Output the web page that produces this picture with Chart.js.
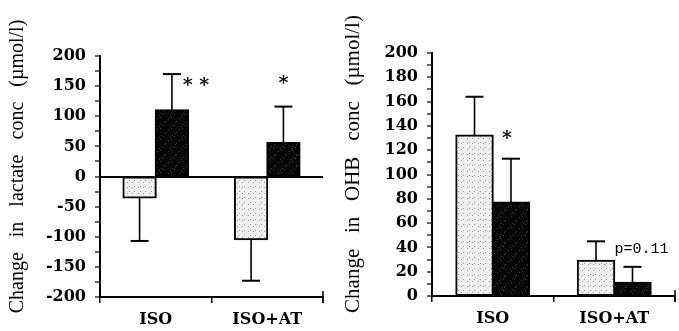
<!DOCTYPE html>
<html lang="en">
<head>
  <meta charset="UTF-8">
  <title>Lactate and OHB change</title>
  <script src="https://cdn.jsdelivr.net/npm/chart.js"></script>
  <style>
    body { margin: 0; background: #fff; }
    .panel { position: absolute; top: 0; }
    #leftPanel { left: 0; }
    #rightPanel { left: 340px; }
  </style>
</head>
<body>
  <div class="panel" id="leftPanel"><canvas id="lactateChart" width="340" height="331"></canvas></div>
  <div class="panel" id="rightPanel"><canvas id="ohbChart" width="339" height="331"></canvas></div>

  <script>
    // --- data ---
    const groups = ['ISO', 'ISO+AT'];

    // lactate (umol/l): light = first bar, dark = second bar
    const lactateLight = [-35, -104];
    const lactateLightErr = [72, 69];
    const lactateDark = [110, 56];
    const lactateDarkErr = [60, 60];

    // OHB (umol/l)
    const ohbLight = [132, 29];
    const ohbLightErr = [32, 16];
    const ohbDark = [77, 11];
    const ohbDarkErr = [36, 13];

    // significance marks: group index, dataset index, value level, text
    const lactateMarks = [
      { group: 0, set: 1, level: 150, text: '* *', dx: 24 },
      { group: 1, set: 1, level: 154, text: '*', dx: 0 }
    ];
    const ohbMarks = [
      { group: 0, set: 1, level: 129, text: '*', dx: -4 },
      { group: 1, set: 1, level: 39, text: 'p=0.11', dx: 9, mono: true }
    ];

    // stippled fills, fixed dot layout
    function stipple(bg, dot, every) {
      const c = document.createElement('canvas');
      c.width = 11; c.height = 11;
      const g = c.getContext('2d');
      g.fillStyle = bg;
      g.fillRect(0, 0, 11, 11);
      g.fillStyle = dot;
      for (let y = 0; y < 11; y++) {
        for (let x = 0; x < 11; x++) {
          if ((x * 7 + y * 5 + x * y) % every === 0) g.fillRect(x, y, 1, 1);
        }
      }
      return g.createPattern(c, 'repeat');
    }
    const lightFill = stipple('#efefef', '#9a9a9a', 6);
    const darkFill = stipple('#070707', '#3c3c3c', 17);

    // one-sided error bars + star labels
    const errorBars = {
      id: 'errorBars',
      afterDatasetsDraw(chart, args, opts) {
        const ctx = chart.ctx;
        const yScale = chart.scales.y;
        ctx.save();
        ctx.strokeStyle = '#000';
        chart.data.datasets.forEach((ds, di) => {
          const meta = chart.getDatasetMeta(di);
          meta.data.forEach((bar, i) => {
            const v = ds.data[i];
            const end = v + Math.sign(v) * ds.errors[i];
            const y1 = yScale.getPixelForValue(v);
            const y2 = yScale.getPixelForValue(end);
            ctx.lineWidth = 1.6;
            ctx.beginPath();
            ctx.moveTo(bar.x, y1);
            ctx.lineTo(bar.x, y2);
            ctx.stroke();
            ctx.lineWidth = 2;
            ctx.beginPath();
            ctx.moveTo(bar.x - 9, y2);
            ctx.lineTo(bar.x + 9, y2);
            ctx.stroke();
          });
        });
        ctx.fillStyle = '#000';
        ctx.textAlign = 'center';
        ctx.textBaseline = 'middle';
        (opts.marks || []).forEach(m => {
          const bar = chart.getDatasetMeta(m.set).data[m.group];
          ctx.font = m.mono ? '15px "Liberation Mono"' : 'bold 19px "DejaVu Serif"';
          ctx.fillText(m.text, bar.x + m.dx, yScale.getPixelForValue(m.level));
        });
        // end tick of the x axis
        const xs = chart.scales.x;
        ctx.lineWidth = 1.5;
        ctx.beginPath();
        ctx.moveTo(xs.right, xs.top - 6);
        ctx.lineTo(xs.right, xs.top + 6);
        ctx.stroke();
        ctx.restore();
      }
    };

    const tickFont = { family: '"DejaVu Serif"', size: 16, weight: 'bold' };

    function makeChart(id, light, lightErr, dark, darkErr, o) {
      return new Chart(document.getElementById(id), {
        type: 'bar',
        data: {
          labels: groups,
          datasets: [
            { data: light, errors: lightErr, backgroundColor: lightFill, borderColor: '#000', borderWidth: 2, borderSkipped: false, inflateAmount: 1 },
            { data: dark, errors: darkErr, backgroundColor: darkFill, borderColor: '#000', borderWidth: 2, borderSkipped: false, inflateAmount: 1 }
          ]
        },
        options: {
          responsive: false,
          animation: false,
          devicePixelRatio: 1,
          layout: { padding: o.padding },
          plugins: {
            legend: { display: false },
            tooltip: { enabled: false },
            errorBars: { marks: o.marks }
          },
          datasets: { bar: { categoryPercentage: o.catPct, barPercentage: 1 } },
          scales: {
            x: {
              afterFit: s => { s.height = o.xHeight; },
              border: { display: true, color: '#000', width: 2 },
              grid: { display: true, drawOnChartArea: false, color: '#000', tickLength: 6, lineWidth: 1.5 },
              ticks: { color: '#000', font: tickFont, padding: 7 }
            },
            y: {
              min: o.min,
              max: o.max,
              afterFit: s => { s.width = o.yWidth; },
              border: { display: true, color: '#000', width: 2 },
              grid: {
                drawOnChartArea: true,
                color: c => (c.tick && c.tick.value === 0 && o.min < 0) ? '#000' : 'transparent',
                lineWidth: 2,
                tickColor: '#000',
                tickWidth: 1.2,
                tickLength: 5
              },
              ticks: {
                stepSize: o.minor,
                autoSkip: false,
                color: '#000',
                font: tickFont,
                padding: 9,
                callback: v => (v % o.major === 0 ? String(v) : '')
              },
              title: {
                display: true,
                text: o.title,
                color: '#000',
                font: { family: '"Liberation Serif"', size: o.titleSize },
                padding: { top: o.titlePad, bottom: 0 }
              }
            }
          }
        },
        plugins: [errorBars]
      });
    }

    // leading spaces lift the rotated title a little, like the original
    makeChart('lactateChart', lactateLight, lactateLightErr, lactateDark, lactateDarkErr, {
      min: -200, max: 200, minor: 25, major: 50,
      title: '    Change   in   lactate   conc   (\u00b5mol/l)',
      titleSize: 20,
      padding: { top: 56, right: 17, bottom: 0, left: 0 },
      yWidth: 100, xHeight: 34, catPct: 0.58, titlePad: 6,
      marks: lactateMarks
    });

    makeChart('ohbChart', ohbLight, ohbLightErr, ohbDark, ohbDarkErr, {
      min: 0, max: 200, minor: 10, major: 20,
      title: '    Change   in   OHB   conc   (\u00b5mol/l)',
      titleSize: 21,
      padding: { top: 53, right: 4, bottom: 0, left: 0 },
      yWidth: 92, xHeight: 35, catPct: 0.6, titlePad: 1,
      marks: ohbMarks
    });
  </script>
</body>
</html>
